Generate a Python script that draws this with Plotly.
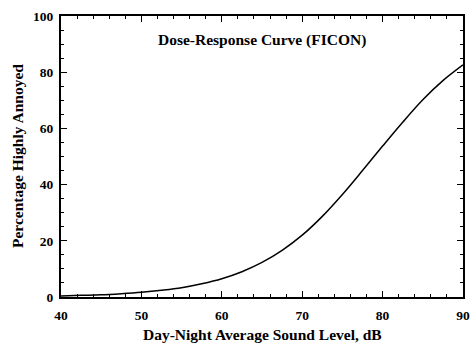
import plotly.graph_objects as go

ldn = [40, 42.5, 45, 47.5, 50, 52.5, 55, 57.5, 60, 62.5, 65, 67.5, 70, 72.5, 75, 77.5, 80, 82.5, 85, 87.5, 90]
pct_ha = [0.4, 0.6, 0.8, 1.2, 1.7, 2.4, 3.3, 4.7, 6.5, 9.0, 12.3, 16.6, 22.0, 28.7, 36.5, 45.0, 53.7, 62.2, 70.2, 77.0, 82.6]

FONT = "Liberation Serif"

fig = go.Figure()
fig.add_trace(go.Scatter(x=ldn, y=pct_ha, mode="lines",
                         line=dict(color="black", width=1.5, shape="spline"),
                         showlegend=False, hoverinfo="skip"))

axis_common = dict(showline=True, linecolor="black", linewidth=2, mirror="ticks",
                   ticks="inside", ticklen=6, tickwidth=1, tickcolor="black",
                   showgrid=False, zeroline=False, automargin=False,
                   tickfont=dict(family=FONT, size=13.5, color="black", weight="bold"))

fig.update_xaxes(range=[40, 90], dtick=10, tick0=40, ticklabelstandoff=5,
                 minor=dict(ticks="inside", ticklen=3, dtick=2, tickcolor="black", showgrid=False),
                 **axis_common)
fig.update_yaxes(range=[0, 100], dtick=20, tick0=0, ticklabelstandoff=3,
                 minor=dict(ticks="inside", ticklen=3, dtick=5, tickcolor="black", showgrid=False),
                 **axis_common)

title_font = dict(family=FONT, size=15.5, color="black")
fig.add_annotation(text="<b>Dose-Response Curve (FICON)</b>", x=0.5, y=0.915,
                   xanchor="center", yanchor="middle",
                   xref="paper", yref="paper", showarrow=False, font=title_font)
fig.add_annotation(text="<b>Day-Night Average Sound Level, dB</b>", x=0.5, y=0,
                   xanchor="center", yanchor="middle", yshift=-37,
                   xref="paper", yref="paper", showarrow=False, font=title_font)
fig.add_annotation(text="<b>Percentage Highly Annoyed</b>", x=0, y=0.5, textangle=-90,
                   xanchor="center", yanchor="middle", xshift=-43.5,
                   xref="paper", yref="paper", showarrow=False, font=title_font)

fig.update_layout(width=471, height=344, margin=dict(l=61, r=8, t=16, b=47),
                  plot_bgcolor="white", paper_bgcolor="white")

fig.write_html("out.html")
